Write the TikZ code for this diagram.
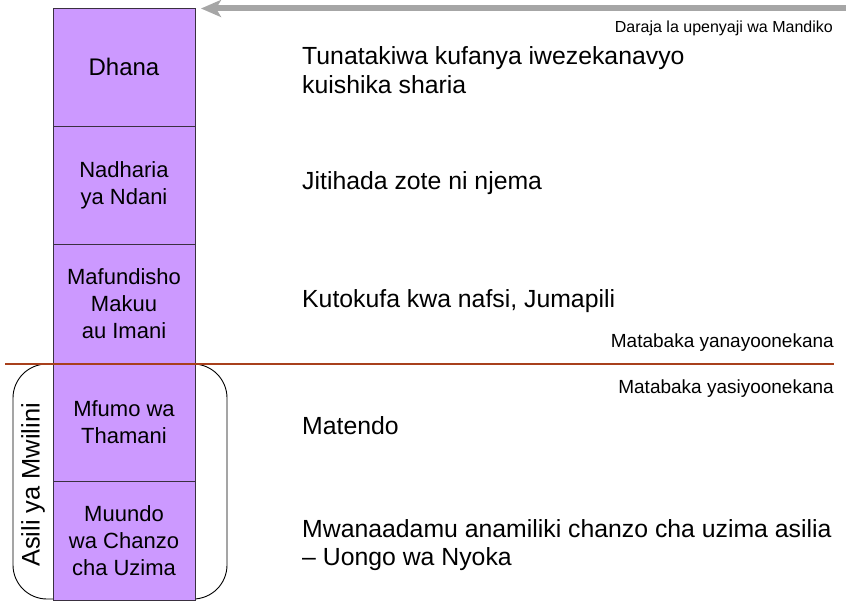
\documentclass[tikz,border=0pt]{standalone}
\usepackage{fontspec}
\setmainfont{Liberation Sans}
\usetikzlibrary{arrows.meta}
\definecolor{cellfill}{HTML}{CC99FF}
\definecolor{cellline}{HTML}{3A3040}
\definecolor{redline}{HTML}{A8401C}
\definecolor{arrgray}{HTML}{A6A6A6}
\tikzset{
  cell/.style={draw=cellline, line width=0.9pt, fill=cellfill, minimum width=142pt, minimum height=118.4pt, align=center, inner sep=0pt, font=\fontsize{22}{27}\selectfont},
  bigtext/.style={anchor=base west, inner sep=0pt, font=\fontsize{24.8}{28}\selectfont},
  smalltext/.style={anchor=base east, inner sep=0pt, font=\fontsize{16}{19}\selectfont},
  midtext/.style={anchor=base east, inner sep=0pt, font=\fontsize{19}{22}\selectfont},
}
\begin{document}
\begin{tikzpicture}[x=1pt,y=-1pt]
\useasboundingbox (0,0) rectangle (846,602);
% bracket
\draw[black, line width=0.9pt, rounded corners=34pt] (13,364) rectangle (227,599);
% column
\node[cell, font=\fontsize{24}{28}\selectfont] (c1) at (124,67.2) {Dhana};
\node[cell] (c2) at (124,185.6) {Nadharia\\ya Ndani};
\node[cell] (c3) at (124,304) {Mafundisho\\Makuu\\au Imani};
\node[cell] (c4) at (124,422.4) {Mfumo wa\\Thamani};
\node[cell] (c5) at (124,540.8) {Muundo\\wa Chanzo\\cha Uzima};
% vertical label
\node[rotate=90, inner sep=0pt, font=\fontsize{25.4}{28}\selectfont] (asili) at (33,485) {Asili ya Mwilini};
% red line
\coordinate (rl) at (5,364);
\coordinate (rr) at (834,364);
\draw[redline, line width=2pt] (rl) -- (rr);
% arrow
\coordinate (as) at (846,8.5);
\coordinate (at) at (201,8.5);
\draw[arrgray, line width=6pt, -{Stealth[length=20pt, width=17pt, inset=5pt]}] (as) -- (at);
% right texts
\node[bigtext] (t1a) at (302,65) {Tunatakiwa kufanya iwezekanavyo};
\node[bigtext] (t1b) at (302,93) {kuishika sharia};
\node[bigtext] (t2) at (302,189) {Jitihada zote ni njema};
\node[bigtext] (t3) at (302,307) {Kutokufa kwa nafsi, Jumapili};
\node[bigtext] (t4) at (302,434) {Matendo};
\node[bigtext] (t5a) at (302,537) {Mwanaadamu anamiliki chanzo cha uzima asilia};
\node[bigtext] (t5b) at (302,565) {– Uongo wa Nyoka};
% small labels
\node[smalltext] (s1) at (833,33) {Daraja la upenyaji wa Mandiko};
\node[midtext] (s2) at (834,347) {Matabaka yanayoonekana};
\node[midtext] (s3) at (834,393) {Matabaka yasiyoonekana};
\end{tikzpicture}
\end{document}
